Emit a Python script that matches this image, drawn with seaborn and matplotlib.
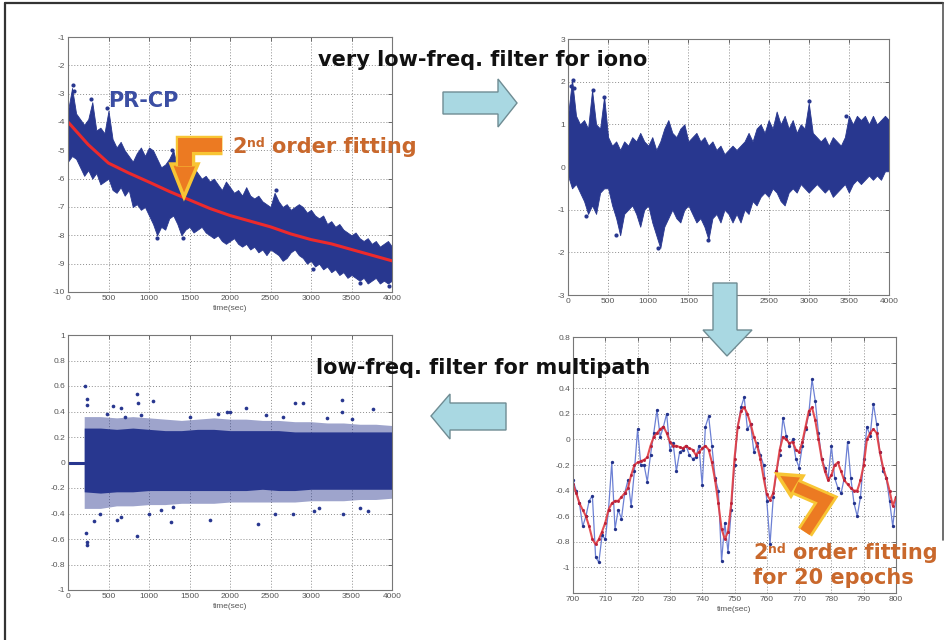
import numpy as np
import pandas as pd
import matplotlib
matplotlib.use("Agg")
import matplotlib.pyplot as plt
import seaborn as sns
from matplotlib.patches import Polygon
from matplotlib.lines import Line2D
from matplotlib import patheffects as pe
from matplotlib.ticker import FuncFormatter

# ---------------- data ----------------
# Panels 1-2: band envelopes read every 50 s
env_t = np.arange(0, 4001, 50)
p1_upper = [-3.6, -2.8, -3.7, -3.9, -4.1, -3.9, -3.3, -4.3, -4.2, -4.4,
            -3.6, -4.6, -4.9, -4.7, -5.0, -5.2, -5.4, -5.1, -4.9, -5.2,
            -4.9, -5.0, -5.3, -5.6, -5.5, -5.3, -5.0, -5.6, -5.5, -5.8,
            -5.9, -5.6, -5.8, -6.0, -5.9, -6.1, -6.0, -6.2, -6.4, -6.1,
            -6.3, -6.5, -6.4, -6.6, -6.3, -6.6, -6.7, -6.6, -6.8, -6.9,
            -7.0, -6.5, -6.8, -7.0, -6.9, -7.1, -7.0, -6.9, -7.0, -7.2,
            -7.1, -7.3, -7.4, -7.3, -7.6, -7.5, -7.7, -7.6, -7.8, -7.9,
            -8.0, -7.9, -8.1, -8.2, -8.1, -8.3, -8.2, -8.4, -8.3, -8.2,
            -8.4]
p1_lower = [-5.4, -5.2, -5.3, -5.6, -5.9, -5.7, -6.0, -5.8, -6.2, -6.1,
            -6.0, -6.4, -6.5, -6.3, -6.6, -6.4, -7.0, -6.9, -7.1, -7.0,
            -7.3, -7.6, -8.0, -7.7, -7.8, -7.4, -7.3, -7.6, -8.0, -7.8,
            -7.7, -7.9, -7.8, -7.7, -7.9, -8.0, -8.1, -8.0, -8.2, -8.3,
            -8.2, -8.1, -8.3, -8.4, -8.3, -8.5, -8.4, -8.6, -8.5, -8.7,
            -8.5, -8.6, -8.7, -8.9, -8.8, -8.6, -8.5, -8.7, -8.8, -9.0,
            -8.9, -9.1, -9.0, -9.2, -9.1, -9.3, -9.2, -9.4, -9.3, -9.5,
            -9.4, -9.5, -9.6, -9.5, -9.7, -9.6, -9.5, -9.7, -9.6, -9.7,
            -9.6]
fit_t = [0, 250, 500, 750, 1000, 1250, 1500, 1750, 2000, 2250, 2500,
         2750, 3000, 3250, 3500, 3750, 4000]
fit_v = [-4.0, -4.8, -5.45, -5.8, -6.12, -6.45, -6.75, -7.05, -7.3, -7.5,
         -7.7, -7.95, -8.15, -8.3, -8.5, -8.7, -8.9]
p1_out_t = [60, 80, 290, 480, 1280, 1420, 1100, 2570, 3020, 3600, 3960]
p1_out_v = [-2.7, -2.9, -3.2, -3.5, -5.0, -8.1, -8.1, -6.4, -9.2, -9.7, -9.8]

p2_upper = [1.2, 2.05, 1.2, 1.0, 1.1, 0.9, 1.8, 1.0, 0.9, 1.65,
            0.7, 0.5, 0.6, 0.4, 0.6, 0.5, 0.7, 0.6, 0.8, 0.6,
            0.5, 0.7, 0.4, 0.6, 0.9, 1.1, 0.8, 0.7, 0.9, 1.0,
            0.6, 0.7, 0.8, 0.6, 0.7, 0.5, 0.6, 0.4, 0.5, 0.3,
            0.4, 0.5, 0.4, 0.5, 0.6, 0.8, 0.6, 0.9, 1.0, 0.8,
            1.1, 0.9, 1.3, 1.0, 1.2, 0.9, 1.1, 0.8, 1.0, 0.9,
            1.5, 0.8, 0.7, 0.6, 0.7, 0.5, 0.7, 0.6, 0.5, 0.7,
            1.2, 1.0, 1.2, 1.1, 1.2, 1.0, 1.2, 1.0, 1.1, 1.2,
            1.1]
p2_lower = [-0.2, -0.5, -0.4, -0.6, -0.8, -1.1, -0.9, -1.1, -0.6, -0.5,
            -0.5, -0.9, -1.2, -1.6, -1.1, -1.0, -0.9, -1.1, -1.4, -1.0,
            -0.9, -1.3, -1.6, -1.9, -1.4, -1.2, -1.0, -1.2, -1.3, -1.0,
            -0.9, -1.1, -1.3, -1.2, -1.4, -1.7, -1.2, -1.1, -1.3, -1.0,
            -1.1, -1.3, -1.1, -1.3, -1.0, -1.1, -0.8, -0.9, -0.7, -0.6,
            -0.7, -0.5, -0.6, -0.8, -0.9, -0.6, -0.5, -0.6, -0.4, -0.5,
            -0.6, -0.5, -0.4, -0.5, -0.6, -0.5, -0.7, -0.6, -0.5, -0.4,
            -0.6, -0.4, -0.3, -0.4, -0.3, -0.2, -0.3, -0.2, -0.3, -0.1,
            -0.1]
p2_out_t = [40, 60, 80, 310, 450, 230, 600, 1120, 1750, 3000, 3460]
p2_out_v = [1.9, 2.05, 1.85, 1.8, 1.65, -1.15, -1.6, -1.9, -1.7, 1.55, 1.2]

# Panel 3: multipath residual
p3_pre_t = [0, 200]
p3_pre_v = [0.0, 0.0]
p3_t = [200, 400, 600, 800, 1000, 1200, 1400, 1600, 1800, 2000,
        2200, 2400, 2600, 2800, 3000, 3200, 3400, 3600, 3800, 4000]
p3_upper = [0.27, 0.27, 0.26, 0.27, 0.26, 0.25, 0.25, 0.26, 0.26, 0.25,
            0.25, 0.25, 0.25, 0.24, 0.24, 0.24, 0.24, 0.24, 0.24, 0.24]
p3_lower = [-0.23, -0.24, -0.23, -0.23, -0.22, -0.22, -0.22, -0.22, -0.22, -0.22,
            -0.22, -0.21, -0.22, -0.22, -0.21, -0.21, -0.21, -0.21, -0.21, -0.21]
p3_fr_upper = [0.36, 0.36, 0.35, 0.36, 0.35, 0.34, 0.33, 0.34, 0.35, 0.34,
               0.34, 0.33, 0.33, 0.32, 0.32, 0.31, 0.31, 0.30, 0.30, 0.29]
p3_fr_lower = [-0.36, -0.36, -0.34, -0.34, -0.33, -0.33, -0.32, -0.32, -0.32, -0.31,
               -0.31, -0.31, -0.31, -0.31, -0.30, -0.30, -0.30, -0.29, -0.29, -0.28]
p3_out_t = [210, 230, 240, 225, 230, 235, 320, 400, 550, 600, 650, 650, 850,
            860, 850, 1000, 1050, 1270, 1500, 1750, 1960, 2000, 2200, 2350,
            2560, 2780, 2800, 2900, 3040, 3380, 3380, 3400, 3600, 3760, 3200,
            700, 1150, 1850, 2450, 3100, 3700, 480, 1300, 2650, 3500, 900]
p3_out_v = [0.60, 0.45, 0.50, -0.55, -0.62, -0.65, -0.46, -0.40, 0.44, -0.45,
            -0.43, 0.43, 0.54, 0.47, -0.58, -0.40, 0.48, -0.47, 0.36, -0.45,
            0.40, 0.40, 0.43, -0.48, -0.40, -0.40, 0.47, 0.47, -0.38, 0.49,
            0.40, -0.40, -0.36, 0.42, 0.35, 0.36, -0.37, 0.38, 0.37, -0.36,
            -0.38, 0.38, -0.35, 0.36, 0.34, 0.37]

# Panel 4: zoom 700-800 s, raw (blue) and 20-epoch fit (red)
t4 = np.arange(700, 801, 1)
blue4 = [-0.32, -0.40, -0.50, -0.68, -0.60, -0.48, -0.44, -0.92, -0.96, -0.75,
         -0.78, -0.55, -0.18, -0.70, -0.55, -0.62, -0.42, -0.32, -0.52, -0.25,
         0.08, -0.20, -0.20, -0.33, -0.12, 0.05, 0.23, 0.02, 0.10, 0.20,
         -0.08, -0.03, -0.25, -0.10, -0.08, -0.05, -0.12, -0.15, -0.14, -0.05,
         -0.36, 0.10, 0.18, -0.05, -0.30, -0.40, -0.95, -0.65, -0.88, -0.55,
         -0.20, 0.10, 0.25, 0.33, 0.08, 0.12, -0.10, -0.03, -0.12, -0.20,
         -0.48, -0.82, -0.45, -0.25, -0.12, 0.17, 0.03, -0.05, 0.00, -0.15,
         -0.22, -0.05, 0.08, 0.20, 0.47, 0.30, 0.05, -0.15, -0.22, -0.30,
         -0.05, -0.30, -0.38, -0.42, -0.30, -0.02, -0.30, -0.50, -0.60, -0.45,
         -0.15, 0.10, 0.03, 0.28, 0.12, -0.10, -0.25, -0.30, -0.48, -0.68,
         -0.45]
red4 = [-0.35, -0.42, -0.50, -0.55, -0.60, -0.68, -0.78, -0.82, -0.78, -0.72,
        -0.65, -0.55, -0.50, -0.48, -0.48, -0.45, -0.42, -0.38, -0.28, -0.20,
        -0.18, -0.17, -0.16, -0.14, -0.05, 0.02, 0.05, 0.08, 0.10, 0.05,
        -0.02, -0.05, -0.05, -0.06, -0.07, -0.05, -0.07, -0.08, -0.12, -0.10,
        -0.07, -0.05, -0.08, -0.18, -0.32, -0.50, -0.70, -0.78, -0.72, -0.50,
        -0.15, 0.10, 0.22, 0.25, 0.20, 0.12, 0.02, -0.05, -0.15, -0.30,
        -0.43, -0.47, -0.42, -0.25, -0.08, 0.02, 0.00, -0.03, -0.02, -0.08,
        -0.10, -0.02, 0.10, 0.22, 0.25, 0.15, 0.00, -0.15, -0.25, -0.32,
        -0.28, -0.20, -0.18, -0.25, -0.32, -0.35, -0.38, -0.40, -0.40, -0.32,
        -0.20, 0.00, 0.05, 0.08, 0.05, -0.10, -0.22, -0.30, -0.40, -0.52,
        -0.45]

# tick values
p1_yticks = [-10, -9, -8, -7, -6, -5, -4, -3, -2, -1]
p2_yticks = [-3, -2, -1, 0, 1, 2, 3]
p3_yticks = [-1, -0.8, -0.6, -0.4, -0.2, 0, 0.2, 0.4, 0.6, 0.8, 1]
p4_yticks = [-1, -0.8, -0.6, -0.4, -0.2, 0, 0.2, 0.4, 0.6, 0.8]
p4_ylabels = ["-1", "-0.8", "-0.6", "-0.4", "-0.2", "0", "0.2", "0.4", "", "0.8"]
time_ticks = [0, 500, 1000, 1500, 2000, 2500, 3000, 3500, 4000]
zoom_ticks = [700, 710, 720, 730, 740, 750, 760, 770, 780, 790, 800]

# ---------------- style ----------------
sns.set_theme(style="white")
plt.rcParams['font.family'] = ['Liberation Sans', 'DejaVu Sans']
plt.rcParams['axes.unicode_minus'] = False

BLUE = "#28378f"
W, H = 947, 640
fig = plt.figure(figsize=(W / 100, H / 100), dpi=100)
fig.patch.set_facecolor("white")


def add_ax(l, r, t, b):
    return fig.add_axes([l / W, (H - b) / H, (r - l) / W, (b - t) / H])


fmt = FuncFormatter(lambda v, p: f"{v:g}")


def style(ax, xlim, ylim, xticks, yticks, xlabel=None):
    ax.set_xlim(*xlim)
    ax.set_ylim(*ylim)
    ax.set_xticks(xticks)
    ax.set_yticks(yticks)
    ax.xaxis.set_major_formatter(fmt)
    ax.yaxis.set_major_formatter(fmt)
    ax.grid(True, linestyle=(0, (1, 2)), color="#8c8c8c", linewidth=0.7)
    ax.set_axisbelow(True)
    ax.tick_params(direction="in", length=3, width=0.6, labelsize=6,
                   colors="#555555", pad=2, top=True, right=True,
                   labeltop=False, labelright=False)
    for s in ax.spines.values():
        s.set_color("#777777")
        s.set_linewidth(0.8)
    if xlabel:
        ax.set_xlabel(xlabel, fontsize=6, color="#555555", labelpad=2)
    else:
        ax.set_xlabel("")
    ax.set_ylabel("")


# Panel 1
ax1 = add_ax(68, 392, 37, 292)
ax1.fill_between(env_t, p1_lower, p1_upper, color=BLUE, linewidth=0.6,
                 edgecolor=BLUE)
sns.scatterplot(x=p1_out_t, y=p1_out_v, ax=ax1, color=BLUE, s=9,
                linewidth=0, legend=False)
sns.lineplot(x=fit_t, y=fit_v, ax=ax1, color="#ec2a2c", linewidth=2.2,
             legend=False)
style(ax1, (0, 4000), (-10, -1), time_ticks, p1_yticks, "time(sec)")

# Panel 2
ax2 = add_ax(568, 889, 39, 295)
ax2.fill_between(env_t, p2_lower, p2_upper, color=BLUE, linewidth=0.6,
                 edgecolor=BLUE)
sns.scatterplot(x=p2_out_t, y=p2_out_v, ax=ax2, color=BLUE, s=9,
                linewidth=0, legend=False)
style(ax2, (0, 4000), (-3, 3), time_ticks, p2_yticks)

# Panel 3
ax3 = add_ax(68, 392, 335, 590)
ax3.fill_between(p3_t, p3_fr_lower, p3_fr_upper, color=BLUE, alpha=0.45,
                 linewidth=0)
ax3.fill_between(p3_t, p3_lower, p3_upper, color=BLUE, linewidth=0)
sns.lineplot(x=p3_pre_t, y=p3_pre_v, ax=ax3, color=BLUE, linewidth=2.2,
             legend=False)
sns.scatterplot(x=p3_out_t, y=p3_out_v, ax=ax3, color=BLUE, s=7,
                linewidth=0, legend=False)
style(ax3, (0, 4000), (-1, 1), time_ticks, p3_yticks, "time(sec)")

# Panel 4
ax4 = add_ax(573, 896, 337, 593)
sns.lineplot(x=t4, y=blue4, ax=ax4, color="#6c80d4", linewidth=0.9,
             marker="o", markersize=2.4, markeredgewidth=0,
             markerfacecolor="#23328a", legend=False)
sns.lineplot(x=t4, y=red4, ax=ax4, color="#e23a3f", linewidth=1.5,
             marker="o", markersize=2.2, markeredgewidth=0,
             markerfacecolor="#b81c35", legend=False, alpha=0.9)
style(ax4, (700, 800), (-1.2, 0.8), zoom_ticks, p4_yticks, "time(sec)")
ax4.set_yticklabels(p4_ylabels)

# ---------------- overlay: arrows, texts, frame ----------------
ov = fig.add_axes([0, 0, 1, 1], zorder=10)
ov.set_xlim(0, W)
ov.set_ylim(H, 0)
ov.axis("off")
ov.patch.set_alpha(0)

ov.plot([5, 943], [3, 3], color="#333333", lw=1.6)
ov.plot([5, 5], [3, 640], color="#333333", lw=1.6)
ov.plot([943, 943], [3, 540], color="#555555", lw=1.2)

LB, LBE = "#a9d8e2", "#6f8c93"
arrows = [
    [(443, 92), (498, 92), (498, 79), (517, 103), (498, 127), (498, 114), (443, 114)],
    [(713, 283), (737, 283), (737, 330), (752, 330), (727, 356), (703, 330), (713, 330)],
    [(506, 403), (450, 403), (450, 394), (431, 416), (450, 439), (450, 430), (506, 430)],
]
for pts in arrows:
    ov.add_patch(Polygon(pts, closed=True, facecolor=LB, edgecolor=LBE, lw=1.0))

ORG, YEL = "#ec7a22", "#f8c534"
ln = Line2D([222, 185, 185], [145, 145, 166], color=ORG, lw=10,
            solid_joinstyle="miter", solid_capstyle="butt",
            path_effects=[pe.Stroke(linewidth=14, foreground=YEL), pe.Normal()])
ov.add_line(ln)
ov.add_patch(Polygon([(171, 164), (198, 164), (184, 197)], closed=True,
                     facecolor=ORG, edgecolor=YEL, lw=2.5, joinstyle="miter"))
ln2 = Line2D([805, 826, 796], [532, 500, 487], color=ORG, lw=8,
             solid_joinstyle="miter", solid_capstyle="butt",
             path_effects=[pe.Stroke(linewidth=12, foreground=YEL), pe.Normal()])
ov.add_line(ln2)
ov.add_patch(Polygon([(777, 474), (803, 476), (791, 496)], closed=True,
                     facecolor=ORG, edgecolor=YEL, lw=2.5, joinstyle="miter"))

BF = ['DejaVu Sans']
ov.text(318, 60, "very low-freq. filter for iono", fontsize=15, family=BF,
        fontweight="bold", color="#111111", va="center", ha="left")
ov.text(316, 368, "low-freq. filter for multipath", fontsize=15, family=BF,
        fontweight="bold", color="#111111", va="center", ha="left")
ov.text(108, 101, "PR-CP", fontsize=15, fontweight="bold", color="#3b4ea3",
        family=BF, va="center", ha="left")

TXT = "#c9682c"


def ordinal_label(x, base):
    ov.text(x, base, "2", fontsize=15, color=TXT, family=BF,
            fontweight="bold", va="baseline", ha="left")
    ov.text(x + 15, base - 6, "nd", fontsize=9, color=TXT, family=BF,
            fontweight="bold", va="baseline", ha="left")
    ov.text(x + 40, base, "order fitting", fontsize=15, color=TXT, family=BF,
            fontweight="bold", va="baseline", ha="left")


ordinal_label(232, 153)
ordinal_label(753, 559)
ov.text(753, 584, "for 20 epochs", fontsize=15, color=TXT, family=BF,
        va="baseline", ha="left", fontweight="bold")

fig.savefig("out.png", dpi=100, facecolor="white")
